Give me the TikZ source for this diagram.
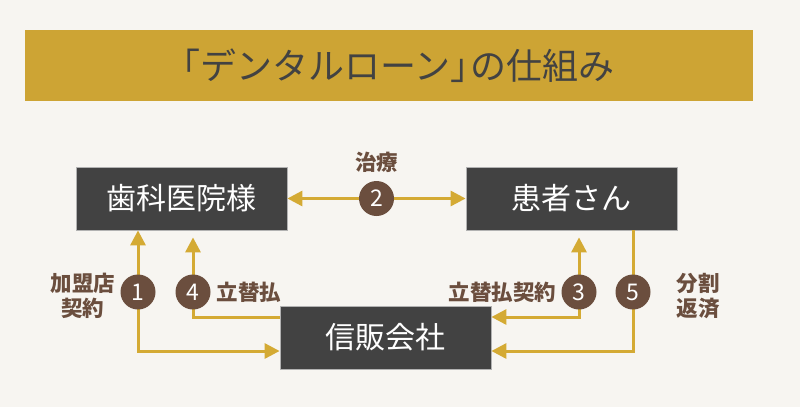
\documentclass[tikz,border=0pt]{standalone}
\usepackage{fontspec}
\setmainfont{Noto Sans CJK JP}
\usetikzlibrary{arrows.meta,positioning}
\definecolor{sfondo}{RGB}{247,245,241}
\definecolor{oro}{RGB}{205,164,52}
\definecolor{lineacol}{RGB}{212,170,52}
\definecolor{marrone}{RGB}{107,78,62}
\definecolor{grigio}{RGB}{66,66,66}
\tikzset{
  titlebox/.style={fill=oro,minimum width=728pt,minimum height=71pt,inner sep=0pt,text=grigio,font=\fontsize{36}{36}\selectfont},
  box/.style={fill=grigio,draw=gray!60,line width=0.8pt,minimum width=211pt,minimum height=63pt,inner sep=0pt,text=white,font=\fontsize{30}{30}\selectfont},
  num/.style={circle,fill=marrone,minimum size=35pt,inner sep=0pt,text=white,font=\fontsize{23}{23}\selectfont},
  lbl/.style={text=marrone,font=\fontsize{21.5}{25}\selectfont\bfseries,align=center,inner sep=2pt},
  tratto/.style={line width=3pt,draw=lineacol},
  punta/.tip={Triangle[length=15pt,width=15pt]}
}
\begin{document}
\begin{tikzpicture}[x=1pt,y=-1pt]
        % sfondo
        \fill[sfondo] (0,0) rectangle (800,407);
        \useasboundingbox (0,0) rectangle (800,407);
        % titolo
        \node[titlebox] (titolo) at (389,65.5) {「デンタルローン」\hspace{-0.45em}の仕組み};
        % blocchi
        \node[box] (clinica) at (181.5,198.5) {歯科医院様};
        \node[box] (paziente) at (571.5,198.5) {患者さん};
        \node[box] (societa) at (385.5,337.5) {信販会社};
        % angoli
        \coordinate (c1) at (138,351);\coordinate (c4) at (193,317);
        \coordinate (c3) at (579,317);\coordinate (c5) at (633,351);
        % frecce
        \draw[tratto,punta-punta] (clinica) -- node[num] (n2) {2} (paziente);
        \draw[tratto,punta-punta] (clinica.south -| c1) -- (c1) -- (societa.west |- c1);
        \draw[tratto,-punta] (societa.west |- c4) -- (c4) -- ([yshift=-7pt]clinica.south -| c4);
        \draw[tratto,punta-punta] (societa.east |- c3) -- (c3) -- ([yshift=-7pt]paziente.south -| c3);
        \draw[tratto,-punta] (paziente.south -| c5) -- (c5) -- (societa.east |- c5);
        % numeri
        \node[num] (n1) at (138,292) {1};\node[num] (n4) at (193,292) {4};
        \node[num] (n3) at (579,292) {3};\node[num] (n5) at (633,292) {5};
        % etichette
        \node[lbl,above=5pt of n2] (l2) {治療};
        \node[lbl,left=3pt of n1,yshift=-4pt] (l1) {加盟店\\契約};
        \node[lbl,right=4pt of n4] (l4) {立替払};
        \node[lbl,left=3pt of n3] (l3) {立替払契約};
        \node[lbl,right=24pt of n5,yshift=-4pt] (l5) {分割\\返済};
\end{tikzpicture}
\end{document}
